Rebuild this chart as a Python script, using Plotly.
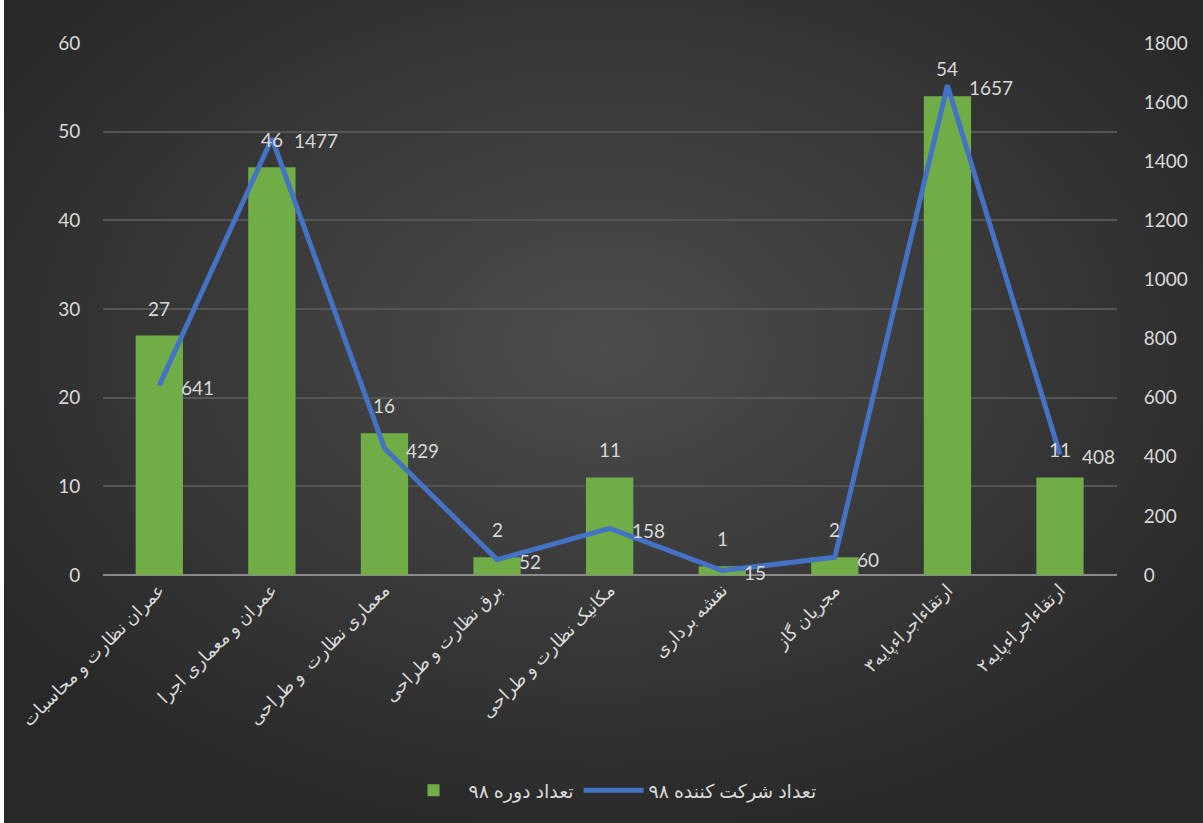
import base64
import plotly.graph_objects as go

categories = [
    "عمران نظارت و محاسبات",
    "عمران و معماری اجرا",
    "معماری نظارت  و طراحی",
    "برق نظارت و طراحی",
    "مکانیک نظارت و طراحی",
    "نقشه برداری",
    "مجریان گاز",
    "ارتقاءاجراءپایه۳",
    "ارتقاءاجراءپایه۲",
]
courses_98 = [27, 46, 16, 2, 11, 1, 2, 54, 11]
participants_98 = [641, 1477, 429, 52, 158, 15, 60, 1657, 408]
left_ticks = [0, 10, 20, 30, 40, 50, 60]
right_ticks = [0, 200, 400, 600, 800, 1000, 1200, 1400, 1600, 1800]

bar_name = "تعداد دوره ۹۸"
line_name = "تعداد شرکت کننده ۹۸"

FONT = "Lato, 'DejaVu Sans', sans-serif"
TXT = "#d9d9d9"
W, H = 1199, 823
L, R, T, B = 99, 86, 43, 248
PW, PH = W - L - R, H - T - B

svg = (
    f'<svg xmlns="http://www.w3.org/2000/svg" width="{W}" height="{H}">'
    '<defs><radialGradient id="g" cx="50%" cy="42%" r="62%">'
    '<stop offset="0%" stop-color="#4c4c4c"/>'
    '<stop offset="100%" stop-color="#282828"/>'
    '</radialGradient></defs>'
    f'<rect width="{W}" height="{H}" fill="url(#g)"/></svg>'
)
bg_uri = "data:image/svg+xml;base64," + base64.b64encode(svg.encode()).decode()

fig = go.Figure()
fig.add_trace(go.Bar(
    x=categories, y=courses_98, name=bar_name,
    marker=dict(color="#70ad47", line=dict(width=0)),
    width=0.42,
    yaxis="y",
))
fig.add_trace(go.Scatter(
    x=categories, y=participants_98, name=line_name,
    mode="lines",
    line=dict(color="#4472c4", width=5),
    cliponaxis=False,
    yaxis="y2",
))

annotations = []
for c, v in zip(categories, courses_98):
    annotations.append(dict(
        x=c, y=v, xref="x", yref="y", text=str(v), showarrow=False,
        xanchor="center", yanchor="bottom", yshift=14,
        font=dict(size=19, color=TXT, family=FONT),
    ))
for c, v in zip(categories, participants_98):
    annotations.append(dict(
        x=c, y=v, xref="x", yref="y2", text=str(v), showarrow=False,
        xanchor="left", yanchor="middle", xshift=20, yshift=-2,
        font=dict(size=19, color=TXT, family=FONT),
    ))

fig.update_layout(
    width=W, height=H,
    margin=dict(l=L, r=R, t=T, b=B),
    paper_bgcolor="#3a3a3a",
    plot_bgcolor="rgba(0,0,0,0)",
    font=dict(family=FONT, color=TXT, size=18),
    showlegend=True,
    legend=dict(
        orientation="h", x=0.5, xanchor="center", y=-0.405, yanchor="middle",
        font=dict(size=19, color=TXT, family=FONT),
        bgcolor="rgba(0,0,0,0)",
        traceorder="normal",
        itemwidth=60,
    ),
    xaxis=dict(
        tickangle=-45, showgrid=False, zeroline=False,
        tickfont=dict(size=18, color=TXT, family=FONT),
        showline=False, ticks="",
    ),
    yaxis=dict(
        range=[0, 60], tickvals=left_ticks, showgrid=True,
        gridcolor="#555555", gridwidth=1.5,
        zeroline=True, zerolinecolor="#8a8a8a", zerolinewidth=2,
        tickfont=dict(size=19, color=TXT, family=FONT),
        ticks="outside", ticklen=18, tickcolor="rgba(0,0,0,0)",
    ),
    yaxis2=dict(
        range=[0, 1800], tickvals=right_ticks, overlaying="y", side="right",
        showgrid=False, zeroline=False,
        tickfont=dict(size=19, color=TXT, family=FONT),
        ticks="outside", ticklen=22, tickcolor="rgba(0,0,0,0)",
    ),
    annotations=annotations,
    images=[dict(
        source=bg_uri, xref="paper", yref="paper",
        x=-L / PW, y=1 + T / PH, sizex=W / PW, sizey=H / PH,
        xanchor="left", yanchor="top", sizing="stretch", layer="below",
    )],
)

fig.write_html(
    "out.html",
    post_script="document.body.style.margin='0';document.body.style.paddingLeft='4px';",
)
